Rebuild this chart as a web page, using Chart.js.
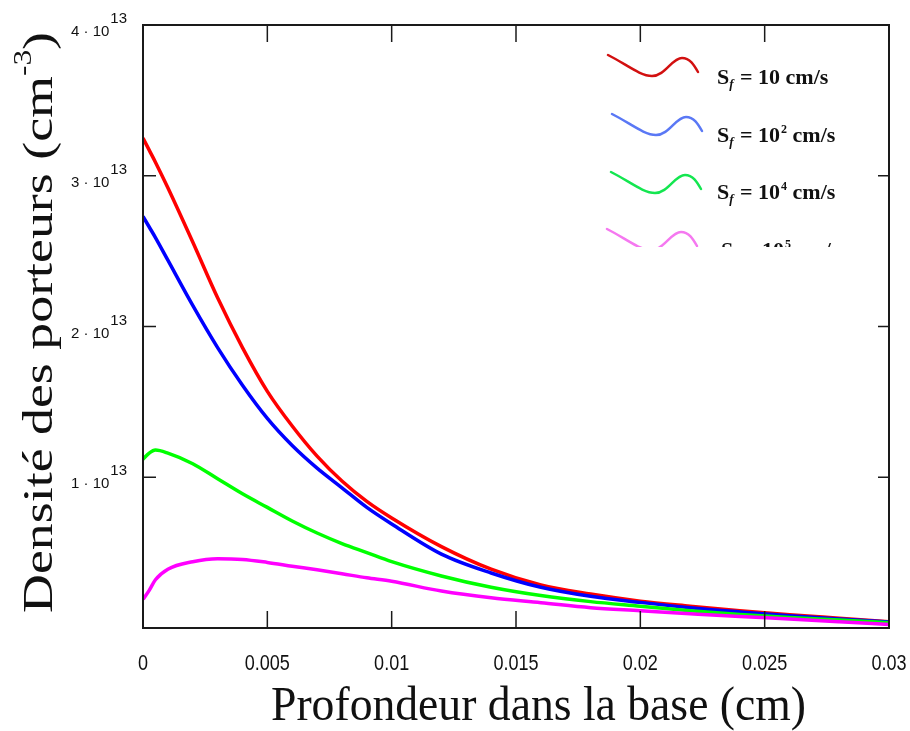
<!DOCTYPE html>
<html>
<head>
<meta charset="utf-8">
<script src="https://cdn.jsdelivr.net/npm/chart.js@4.4.1/dist/chart.umd.min.js"></script>
<style>
    html, body { margin: 0; padding: 0; background: #fff; }
</style>
</head>
<body>
<canvas id="myLineChart" width="910" height="731"></canvas>
<script>
// profondeur dans la base (cm)
const depth = [0, 0.00025, 0.0005, 0.001, 0.002, 0.003, 0.004, 0.005, 0.006, 0.007, 0.008, 0.009, 0.01,
    0.012, 0.014, 0.016, 0.018, 0.02, 0.022, 0.024, 0.026, 0.028, 0.03];

// densite des porteurs (cm-3) for each recombination velocity Sf
const nSf10 = [3.25e13, 3.17e13, 3.09e13, 2.92e13, 2.56e13, 2.19e13, 1.86e13, 1.57e13, 1.34e13, 1.14e13, 0.975e13, 0.84e13, 0.73e13,
    0.54e13, 0.39e13, 0.285e13, 0.225e13, 0.178e13, 0.145e13, 0.115e13, 0.088e13, 0.065e13, 0.042e13];
const nSf1e2 = [2.73e13, 2.66e13, 2.59e13, 2.44e13, 2.14e13, 1.86e13, 1.61e13, 1.39e13, 1.21e13, 1.06e13, 0.93e13, 0.80e13, 0.69e13,
    0.49e13, 0.365e13, 0.27e13, 0.21e13, 0.17e13, 0.135e13, 0.107e13, 0.082e13, 0.06e13, 0.04e13];
const nSf1e4 = [1.12e13, 1.16e13, 1.18e13, 1.16e13, 1.09e13, 0.99e13, 0.89e13, 0.80e13, 0.71e13, 0.63e13, 0.56e13, 0.50e13, 0.44e13,
    0.345e13, 0.27e13, 0.215e13, 0.175e13, 0.145e13, 0.115e13, 0.09e13, 0.07e13, 0.053e13, 0.035e13];
const nSf1e5 = [0.19e13, 0.25e13, 0.32e13, 0.39e13, 0.44e13, 0.46e13, 0.455e13, 0.435e13, 0.41e13, 0.386e13, 0.36e13, 0.333e13, 0.31e13,
    0.245e13, 0.20e13, 0.168e13, 0.135e13, 0.115e13, 0.095e13, 0.076e13, 0.06e13, 0.042e13, 0.023e13];

const xTicks = [0, 0.005, 0.01, 0.015, 0.02, 0.025, 0.03];
const xTickLabels = ['0', '0.005', '0.01', '0.015', '0.02', '0.025', '0.03'];
const yTicks = [1e13, 2e13, 3e13, 4e13];
const yTickMantissa = ['1', '2', '3', '4'];
const yTickExp = '13';

const legendExp = ['', '2', '4', '5'];
const curveColors = ['rgb(255, 0, 0)', 'rgb(0, 0, 255)', 'rgb(0, 255, 0)', 'rgb(255, 0, 255)'];
const waveColors = ['rgb(210, 16, 16)', 'rgb(90, 120, 245)', 'rgb(20, 230, 80)', 'rgb(245, 120, 240)'];

const toPoints = (arr) => depth.map((d, i) => ({ x: d, y: arr[i] }));

// fit a text run to a given length by squeezing it horizontally
function drawFitted(ctx, parts, length) {
    let total = 0;
    parts.forEach(p => { ctx.font = p.font; total += ctx.measureText(p.text).width; });
    const k = length / total;
    ctx.save();
    ctx.scale(k, 1);
    let cx = 0;
    parts.forEach(p => {
        ctx.font = p.font;
        ctx.fillText(p.text, cx, -(p.rise || 0));
        cx += ctx.measureText(p.text).width;
    });
    ctx.restore();
}

function wave(ctx, x0, y0) {
    ctx.beginPath();
    ctx.moveTo(x0, y0);
    ctx.bezierCurveTo(x0 + 18, y0 + 9, x0 + 32, y0 + 21, x0 + 44, y0 + 21);
    ctx.bezierCurveTo(x0 + 57, y0 + 21, x0 + 64, y0 + 3, x0 + 74, y0 + 3);
    ctx.bezierCurveTo(x0 + 82, y0 + 3, x0 + 86, y0 + 10, x0 + 90, y0 + 17);
    ctx.stroke();
}

const framePlugin = {
    id: 'frame',
    afterDraw(chart) {
        const { ctx, chartArea: a, scales: { x, y } } = chart;
        ctx.save();
        const line = (x1, y1, x2, y2) => { ctx.beginPath(); ctx.moveTo(x1, y1); ctx.lineTo(x2, y2); ctx.stroke(); };

        // box + inward ticks
        ctx.strokeStyle = '#1a1a1a';
        ctx.lineWidth = 2;
        ctx.strokeRect(a.left, a.top, a.right - a.left, a.bottom - a.top);
        ctx.lineWidth = 1.5;
        xTicks.forEach(v => {
            const px = x.getPixelForValue(v);
            line(px, a.bottom, px, a.bottom - 17);
            line(px, a.top, px, a.top + 17);
        });
        yTicks.forEach(v => {
            const py = y.getPixelForValue(v);
            line(a.left, py, a.left + 13, py);
            line(a.right, py, a.right - 11, py);
        });

        // x tick labels (narrow face)
        ctx.fillStyle = '#111';
        ctx.font = '22px "Liberation Sans", Arial, sans-serif';
        ctx.textAlign = 'center';
        ctx.textBaseline = 'alphabetic';
        xTicks.forEach((v, i) => {
            ctx.save();
            ctx.translate(x.getPixelForValue(v), 670);
            ctx.scale(0.82, 1);
            ctx.fillText(xTickLabels[i], 0, 0);
            ctx.restore();
        });

        // y tick labels  n·10^13
        ctx.textAlign = 'right';
        yTicks.forEach((v, i) => {
            const py = y.getPixelForValue(v);
            ctx.font = '15px "Liberation Sans", Arial, sans-serif';
            const ew = ctx.measureText(yTickExp).width;
            ctx.fillText(yTickExp, 127, py - 2);
            ctx.fillText(yTickMantissa[i] + ' \u00b7 10', 126 - ew, py + 11);
        });

        // axis titles
        ctx.textAlign = 'left';
        const serif = '"Liberation Serif", "Times New Roman", serif';
        ctx.save();
        ctx.translate(271, 720);
        drawFitted(ctx, [{ text: 'Profondeur dans la base (cm)', font: '48px ' + serif }], 535);
        ctx.restore();

        ctx.save();
        ctx.translate(52, 613);
        ctx.rotate(-Math.PI / 2);
        drawFitted(ctx, [
            { text: 'Densité des porteurs (cm', font: '43px ' + serif },
            { text: '-3', font: '25px ' + serif, rise: 21 },
            { text: ')', font: '43px ' + serif }
        ], 581);
        ctx.restore();

        // legend (pasted picture, cut off under the third entry)
        ctx.save();
        ctx.beginPath();
        ctx.rect(590, 35, 290, 212);
        ctx.clip();
        const waveStart = [[608, 55], [612, 114], [611, 172], [607, 229]];
        const textY = [84, 142, 199, 257];
        ctx.lineWidth = 2.5;
        ctx.lineCap = 'round';
        waveStart.forEach((s, i) => {
            ctx.strokeStyle = waveColors[i];
            wave(ctx, s[0], s[1]);
            let cx = i === 3 ? 721 : 717;
            const by = textY[i];
            ctx.fillStyle = '#111';
            ctx.font = 'bold 22px ' + serif;
            ctx.fillText('S', cx, by);
            cx += ctx.measureText('S').width;
            ctx.font = 'italic bold 13px ' + serif;
            ctx.fillText('f', cx, by + 4);
            cx += ctx.measureText('f').width + 1;
            ctx.font = 'bold 22px ' + serif;
            ctx.fillText(' = 10', cx, by);
            cx += ctx.measureText(' = 10').width;
            if (legendExp[i]) {
                ctx.font = 'bold 12px ' + serif;
                ctx.fillText(legendExp[i], cx + 1, by - 9);
                cx += ctx.measureText(legendExp[i]).width + 1;
            }
            ctx.font = 'bold 22px ' + serif;
            ctx.fillText(' cm/s', cx, by);
        });
        ctx.restore();

        ctx.restore();
    }
};

const config = {
    type: 'line',
    data: {
        datasets: [
            { label: 'Sf = 10 cm/s', data: toPoints(nSf10), borderColor: curveColors[0], order: 4 },
            { label: 'Sf = 10² cm/s', data: toPoints(nSf1e2), borderColor: curveColors[1], order: 3 },
            { label: 'Sf = 10⁴ cm/s', data: toPoints(nSf1e4), borderColor: curveColors[2], order: 2 },
            { label: 'Sf = 10⁵ cm/s', data: toPoints(nSf1e5), borderColor: curveColors[3], order: 1 }
        ]
    },
    options: {
        responsive: false,
        animation: false,
        devicePixelRatio: 1,
        layout: { padding: { left: 143, top: 25, right: 21, bottom: 103 } },
        elements: {
            line: { borderWidth: 3.5, cubicInterpolationMode: 'monotone', fill: false },
            point: { radius: 0 }
        },
        plugins: {
            legend: { display: false },
            tooltip: { enabled: false }
        },
        scales: {
            x: {
                type: 'linear', min: 0, max: 0.03,
                ticks: { display: false },
                grid: { display: false, drawTicks: false },
                border: { display: false }
            },
            y: {
                type: 'linear', min: 0, max: 4e13,
                ticks: { display: false },
                grid: { display: false, drawTicks: false },
                border: { display: false }
            }
        }
    },
    plugins: [framePlugin]
};

new Chart(document.getElementById('myLineChart'), config);
</script>
</body>
</html>
